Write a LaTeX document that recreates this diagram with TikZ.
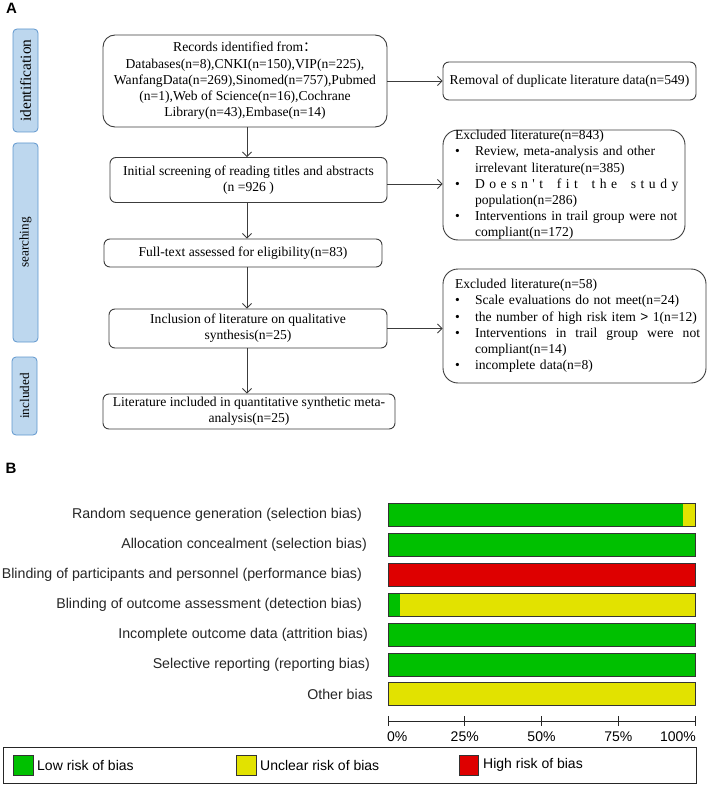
\documentclass[tikz,border=0pt]{standalone}
\usepackage{fontspec}
\setmainfont{Liberation Serif}
\newfontfamily\arial{Liberation Sans}
\newfontfamily\cjk{Noto Sans CJK SC}
\usetikzlibrary{arrows.meta}
\definecolor{sideblue}{RGB}{189,215,238}
\definecolor{sideedge}{RGB}{95,150,205}
\definecolor{boxedge}{RGB}{60,60,60}
\definecolor{lowgreen}{RGB}{0,192,0}
\definecolor{unyellow}{RGB}{226,226,0}
\definecolor{highred}{RGB}{222,0,0}
\newcommand{\bul}{\makebox[20pt][l]{\textbullet}}
\newcommand{\cont}{\hspace*{20pt}}
\begin{document}
\begin{tikzpicture}[x=1pt,y=-1pt,
  flow/.style={draw=boxedge, line width=0.9pt, align=center, inner sep=0pt,
    font=\fontsize{13.6}{16.2}\selectfont},
  exbox/.style={draw=boxedge, line width=0.9pt, align=left, inner xsep=12pt, inner ysep=0pt,
    rounded corners=15pt, font=\fontsize{13.6}{16.2}\selectfont},
  side/.style={draw=sideedge, fill=sideblue, line width=0.8pt, rounded corners=4pt,
    minimum width=25pt, inner sep=0pt},
  sidetext/.style={rotate=90},
  arr/.style={draw=boxedge, line width=0.8pt, -{Straight Barb[length=4.5pt,width=9pt]}},
  lbl/.style={anchor=east, font=\arial\fontsize{14.2}{16}\selectfont, text=black!85, inner sep=0pt},
  bar/.style={draw=black!80, line width=0.8pt},
  panel/.style={font=\arial\bfseries\fontsize{15}{18}\selectfont, inner sep=0pt},
  legtext/.style={anchor=west, font=\arial\fontsize{14}{16}\selectfont, inner sep=0pt},
  tick/.style={font=\arial\fontsize{14}{16}\selectfont, inner sep=0pt}
]
\useasboundingbox (0,0) rectangle (708,786);

% ---------- Panel A ----------
\node[panel] (pa) at (11.5,8.5) {A};

\node[side, minimum height=103pt] (s1) at (25.5,80.5) {};
\node[sidetext, font=\fontsize{15.4}{18}\selectfont] (s1t) at (s1.center) {identification};
\node[side, minimum height=199pt] (s2) at (25.5,242.5) {};
\node[sidetext, font=\fontsize{13.2}{16}\selectfont] (s2t) at (s2.center) {searching};
\node[side, minimum height=78pt] (s3) at (24.5,396) {};
\node[sidetext, font=\fontsize{13.2}{16}\selectfont] (s3t) at (s3.center) {included};

\node[flow, rounded corners=12pt, minimum width=284pt, minimum height=92pt] (rec) at (245,81)
 {Records identified from{\cjk ：}\\
  Databases(n=8),CNKI(n=150),VIP(n=225),\\
  WanfangData(n=269),Sinomed(n=757),Pubmed\\
  (n=1),Web of Science(n=16),Cochrane\\
  Library(n=43),Embase(n=14)};

\node[flow, rounded corners=6pt, minimum width=253pt, minimum height=38pt] (rem) at (569.5,81)
 {Removal of duplicate literature data(n=549)};

\node[flow, rounded corners=6pt, minimum width=277pt, minimum height=45pt] (ini) at (248.5,180)
 {Initial screening of reading titles and abstracts\\(n =926 )};

\node[exbox, text width=218pt, minimum height=110pt] (ex1) at (564,185)
 {\mbox{Excluded literature(n=843)}\\
  \bul\makebox[196pt][s]{Review, meta-analysis and other}\\
  \cont\mbox{irrelevant literature(n=385)}\\
  \bul\makebox[196pt][s]{D o e s n \textquotesingle\ t\ \ \ f i t\ \ \ t h e\ \ \ s t u d y}\\
  \cont\mbox{population(n=286)}\\
  \bul\mbox{Interventions in trail group were not}\\
  \cont\mbox{compliant(n=172)}};

\node[flow, rounded corners=6pt, minimum width=278pt, minimum height=28pt] (ful) at (243,253)
 {Full-text assessed for eligibility(n=83)};

\node[flow, rounded corners=6pt, minimum width=278pt, minimum height=39pt] (inc) at (248,328.5)
 {Inclusion of literature on qualitative\\synthesis(n=25)};

\node[exbox, text width=239pt, minimum height=114pt] (ex2) at (574.5,326)
 {\mbox{Excluded literature(n=58)}\\
  \bul\mbox{Scale evaluations do not meet(n=24)}\\
  \bul\mbox{the number of high risk item {\arial >} 1(n=12)}\\
  \bul\makebox[214pt][s]{Interventions\ \ in\ \ trail\ \ group\ \ were\ \ not}\\
  \cont\mbox{compliant(n=14)}\\
  \bul\mbox{incomplete data(n=8)}};

\node[flow, rounded corners=6pt, minimum width=292pt, minimum height=35pt] (lit) at (249,411.5)
 {Literature included in quantitative synthetic meta-\\analysis(n=25)};

\draw[arr] (247,0 |- rec.south) -- (247,0 |- ini.north);
\draw[arr] (247,0 |- ini.south) -- (247,0 |- ful.north);
\draw[arr] (247,0 |- ful.south) -- (247,0 |- inc.north);
\draw[arr] (247,0 |- inc.south) -- (247,0 |- lit.north);
\draw[arr] (rec.east) -- (rec.east -| rem.west);
\draw[arr] (ini.east |- 0,184) -- (ex1.west |- 0,184);
\draw[arr] (inc.east) -- (inc.east -| ex2.west);

% ---------- Panel B ----------
\node[panel] (pb) at (11,468) {B};

\node[lbl] (l1) at (362,515) {Random sequence generation (selection bias)};
\node[lbl] (l2) at (367,545) {Allocation concealment (selection bias)};
\node[lbl] (l3) at (362,575) {Blinding of participants and personnel (performance bias)};
\node[lbl] (l4) at (362,605) {Blinding of outcome assessment (detection bias)};
\node[lbl] (l5) at (368,635) {Incomplete outcome data (attrition bias)};
\node[lbl] (l6) at (370,665) {Selective reporting (reporting bias)};
\node[lbl] (l7) at (373,694) {Other bias};

% bars: left 388, width 307, height 23
\fill[lowgreen] (388,503.5) rectangle (682.7,526.5);
\fill[unyellow] (682.7,503.5) rectangle (695,526.5);
\draw[bar] (388,503.5) rectangle (695,526.5);
\draw[bar, fill=lowgreen] (388,533.5) rectangle (695,556.5);
\draw[bar, fill=highred] (388,563.5) rectangle (695,586.5);
\fill[lowgreen] (388,593.5) rectangle (400.3,616.5);
\fill[unyellow] (400.3,593.5) rectangle (695,616.5);
\draw[bar] (388,593.5) rectangle (695,616.5);
\draw[bar, fill=lowgreen] (388,623.5) rectangle (695,646.5);
\draw[bar, fill=lowgreen] (388,653.5) rectangle (695,676.5);
\draw[bar, fill=unyellow] (388,682.5) rectangle (695,705.5);

% axis
\draw[line width=0.8pt, black!85] (388,721) -- (695,721);
\foreach \k in {0,1,2,3,4}{
  \draw[line width=0.8pt, black!85] ({388+76.75*\k},716) -- ({388+76.75*\k},726);
}
\node[tick, anchor=west] (t0) at (387,737) {0\%};
\node[tick] (t1) at (464.75,737) {25\%};
\node[tick] (t2) at (541.5,737) {50\%};
\node[tick] (t3) at (618.25,737) {75\%};
\node[tick, anchor=east] (t4) at (696,737) {100\%};

% legend
\draw[line width=0.8pt, black!85] (3,747) rectangle (696,783);
\draw[bar, fill=lowgreen] (13,755) rectangle (33,775);
\node[legtext] (g1) at (37,765) {Low risk of bias};
\draw[bar, fill=unyellow] (236,755) rectangle (256,775);
\node[legtext] (g2) at (260,765) {Unclear risk of bias};
\draw[bar, fill=highred] (459,755) rectangle (478,775);
\node[legtext] (g3) at (483,765) {High risk of bias};
\end{tikzpicture}
\end{document}
